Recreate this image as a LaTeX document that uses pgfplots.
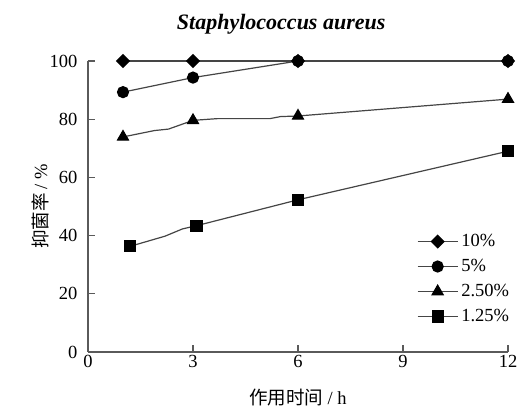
\documentclass[border=0pt]{standalone}
\usepackage{pgfplots}
\pgfplotsset{compat=1.18}
\usetikzlibrary{calc}
\usepackage{fontspec}
\setmainfont{Liberation Serif}
\newfontfamily\cjk{Noto Sans CJK SC}
\definecolor{ln}{HTML}{454545}
\definecolor{ax}{HTML}{5A5A5A}
\begin{document}
\begin{tikzpicture}
\begin{axis}[
  name=ax,
  scale only axis, width=420pt, height=291pt,
  xmin=0, xmax=12, ymin=0, ymax=100,
  axis lines=left,
  axis line style={-, draw=ax, line width=1.2pt},
  xtick={0,3,6,9,12}, ytick={0,20,40,60,80,100},
  tick align=inside, major tick length=7pt,
  tick style={draw=ax, line width=1.2pt},
  tick label style={font=\fontsize{18.5}{20}\selectfont},
  yticklabel style={xshift=-7pt},
  /pgf/number format/assume math mode=true,
  xlabel={\cjk 作用时间\ \rmfamily / h},
  ylabel={\cjk 抑菌率\ \rmfamily / \%},
  label style={font=\fontsize{18.5}{20}\selectfont},
  xlabel style={at={(axis description cs:0.5,0)}, anchor=center, yshift=-46pt},
  ylabel style={at={(axis description cs:0,0.5)}, anchor=center, yshift=48pt},
  title={\textbf{\textit{Staphylococcus aureus}}},
  title style={font=\fontsize{22}{24}\selectfont, at={(axis description cs:0.46,1)}, anchor=center, yshift=31pt},
  clip=false,
  every axis plot/.append style={draw=ln, line width=1.2pt},
  legend style={draw=none, fill=none, at={(0.783,0.413)}, anchor=north west,
    font=\fontsize{18.5}{20}\selectfont, row sep=6pt, inner sep=0pt,
    nodes={inner sep=1pt, text height=13pt, text depth=4pt}},
  legend cell align=left,
  legend image code/.code={\draw[#1, mark=none] (0pt,0pt) -- (40pt,0pt); \draw[#1, mark indices={1}] plot coordinates {(20pt,0pt)}; \path (42pt,0pt);},
]
\addplot[mark=square*, mark size=4.4pt, mark options={fill=black, draw=black, solid, rotate=45}] coordinates {(1,100) (3,100) (6,100) (12,100)};
\addlegendentry{10\%}
\addplot[mark=*, mark size=5.5pt, mark options={fill=black, draw=black, solid}] coordinates {(1,89.3) (3,94.3) (6,100) (12,100)};
\addlegendentry{5\%}
\addplot[mark=triangle*, mark size=6.3pt, mark options={fill=black, draw=black, solid}, mark indices={1,4,8,9}] coordinates {(1,73.9) (1.9,76.1) (2.3,76.6) (3,79.6) (3.7,80.2) (5.2,80.2) (5.5,80.9) (6,81.1) (12,86.9)};
\addlegendentry{2.50\%}
\addplot[mark=square*, mark size=5.5pt, mark options={fill=black, draw=black, solid}, mark indices={1,4,5,6}] coordinates {(1.2,36.3) (2.2,39.8) (2.7,42.3) (3.1,43.4) (6,52.3) (12,69)};
\addlegendentry{1.25\%}
\end{axis}
\pgfresetboundingbox
\path ($(ax.south west)+(-88pt,-57pt)$) rectangle ($(ax.north east)+(19pt,61pt)$);
\end{tikzpicture}
\end{document}
